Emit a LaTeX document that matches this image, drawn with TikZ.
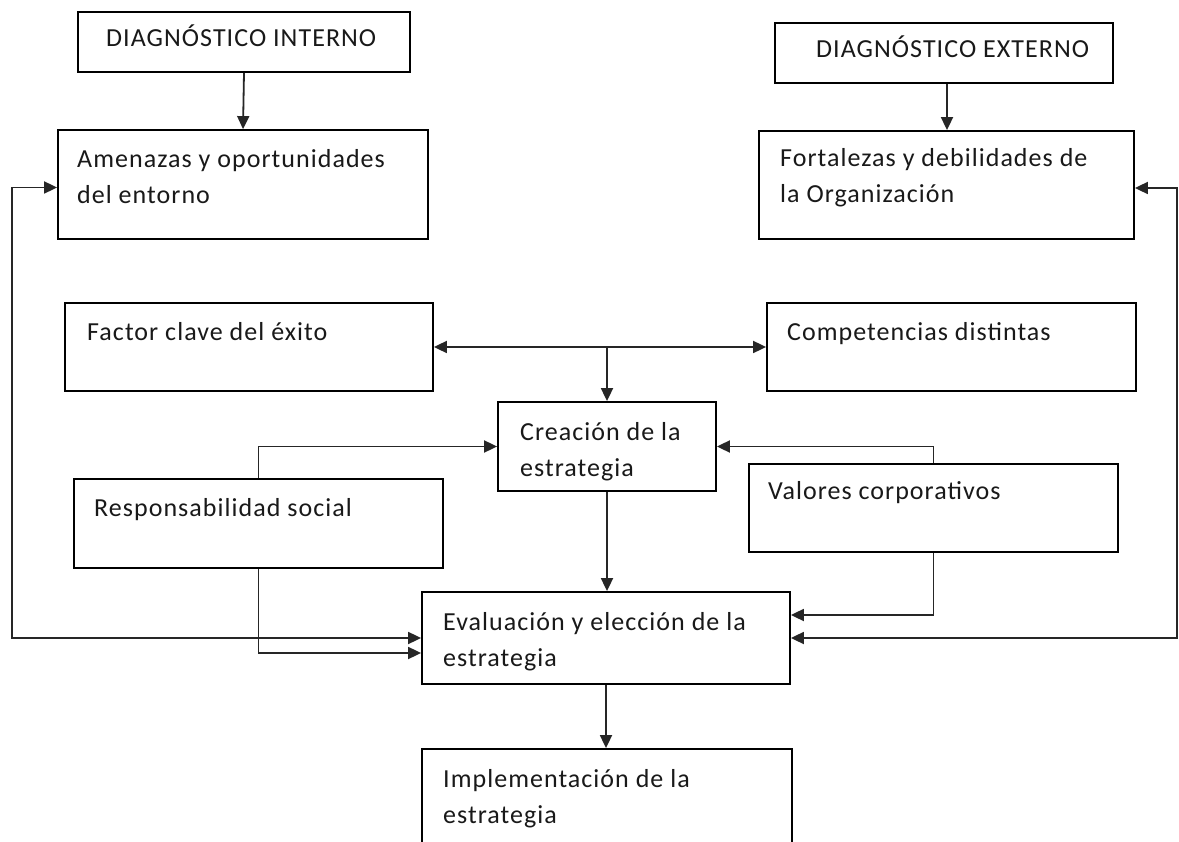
\documentclass[tikz,border=0pt]{standalone}
\usepackage{fontspec}
\setmainfont{Carlito}[LetterSpace=4.0]
\usetikzlibrary{arrows.meta,calc,fit}
\begin{document}
\begin{tikzpicture}[x=1pt,y=-1pt,
  box/.style={draw=black, line width=1.8pt, fill=white, inner sep=0pt},
  txt/.style={anchor=base west, inner sep=0pt, text=black!90,
              font=\fontsize{26}{36}\selectfont},
  tip/.style={Triangle[length=13pt,width=12pt]},
  conn/.style={draw=black!85, line width=1.8pt, -{Triangle[length=13pt,width=12pt]}},
  conn2/.style={draw=black!85, line width=1.8pt,
                {Triangle[length=13pt,width=12pt]}-{Triangle[length=13pt,width=12pt]}}]

  \path[use as bounding box, clip] (0,0) rectangle (1179,842);
  \fill[white] (0,0) rectangle (1179,842);

  % boxes
  \node[box, fit={(78,12)(410,72)}]    (di) {};
  \node[box, fit={(775,23)(1113,83)}]  (de) {};
  \node[box, fit={(58,130)(428,239)}]  (am) {};
  \node[box, fit={(759,131)(1134,239)}] (fo) {};
  \node[box, fit={(65,303)(433,391)}]  (fc) {};
  \node[box, fit={(767,303)(1136,391)}] (co) {};
  \node[box, fit={(498,402)(716,491)}] (cr) {};
  \node[box, fit={(74,479)(443,568)}]  (rs) {};
  \node[box, fit={(749,464)(1118,552)}] (va) {};
  \node[box, fit={(422,592)(790,684)}] (ev) {};
  \node[box, fit={(422,749)(792,900)}] (im) {};

  % texts
  \node[txt] (di-t) at (106,47)  {DIAGNÓSTICO INTERNO};
  \node[txt] (de-t) at (816,58)  {DIAGNÓSTICO EXTERNO};
  \node[txt] (am-t) at (77,168)  {\parbox[t]{360pt}{Amenazas y oportunidades\\del entorno}};
  \node[txt] (fo-t) at (780,167) {\parbox[t]{360pt}{Fortalezas y debilidades de\\la Organización}};
  \node[txt] (fc-t) at (87,341)  {Factor clave del éxito};
  \node[txt] (co-t) at (787,341) {Competencias distintas};
  \node[txt] (cr-t) at (520,440) {\parbox[t]{200pt}{Creación de la\\estrategia}};
  \node[txt] (rs-t) at (94,516)  {Responsabilidad social};
  \node[txt] (va-t) at (768,500) {Valores corporativos};
  \node[txt] (ev-t) at (443,630) {\parbox[t]{360pt}{Evaluación y elección de la\\estrategia}};
  \node[txt] (im-t) at (443,787) {\parbox[t]{360pt}{Implementación de la\\estrategia}};

  % connectors
  \draw[conn] (di.south) -- (am.north);
  \draw[conn] ([xshift=3pt]de.south) -- ([xshift=3pt]de.south |- fo.north);
  \draw[conn2] (fc.east) -- (co.west);
  \draw[conn] (cr.north |- fc.east) -- (cr.north);
  \draw[conn] (rs.north) |- (cr.west);
  \draw[conn] (va.north) |- (cr.east);
  \draw[conn] (cr.south) -- (cr.south |- ev.north);
  \draw[conn] (rs.south) |- ($(ev.west)+(0,15)$);
  \draw[conn] (va.south) |- ($(ev.east)+(0,-23)$);
  \coordinate (lrail) at (12,400);
  \coordinate (rrail) at (1177,400);
  \draw[conn2] ($(am.west)+(0,3)$) -| (lrail) |- (ev.west);
  \draw[conn2] ($(fo.east)+(0,3)$) -| (rrail) |- (ev.east);
  \draw[conn] (ev.south) -- (ev.south |- im.north);
\end{tikzpicture}
\end{document}
